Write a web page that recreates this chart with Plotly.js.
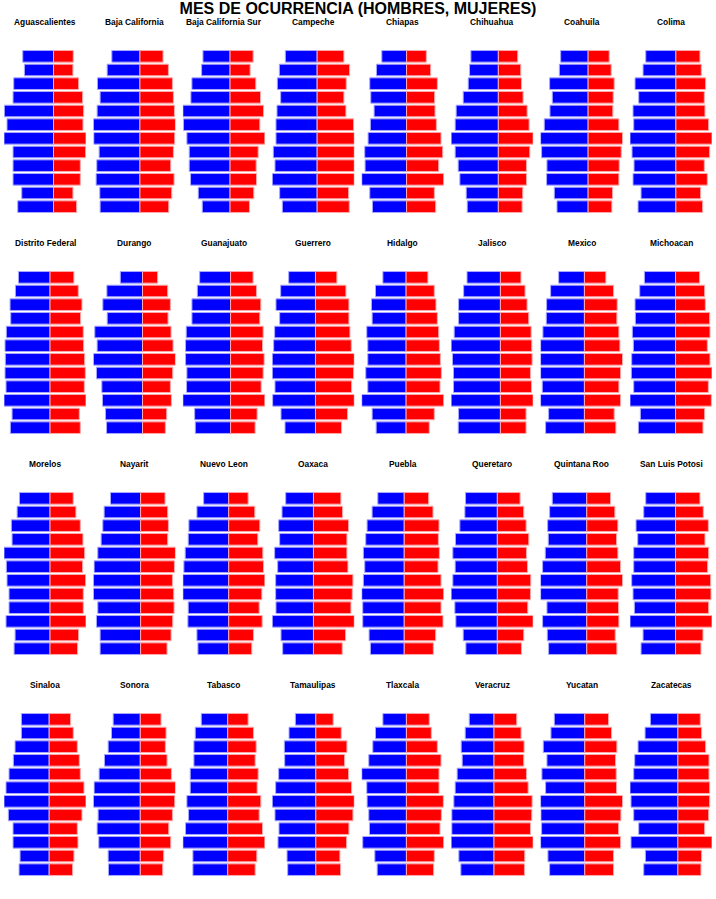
<!DOCTYPE html>
<html>
<head>
<meta charset="utf-8">
<script src="https://cdn.plot.ly/plotly-3.0.1.min.js"></script>
<style>html,body{margin:0;padding:0;background:#fff;}#chart{width:716px;height:899px;}</style>
</head>
<body>
<div id="chart"></div>
<script>
const tituloPrincipal = "MES DE OCURRENCIA (HOMBRES, MUJERES)";
const meses = ["Ene","Feb","Mar","Abr","May","Jun","Jul","Ago","Sep","Oct","Nov","Dic"];
const estados = ["Aguascalientes","Baja California","Baja California Sur","Campeche","Chiapas","Chihuahua","Coahuila","Colima",
  "Distrito Federal","Durango","Guanajuato","Guerrero","Hidalgo","Jalisco","Mexico","Michoacan",
  "Morelos","Nayarit","Nuevo Leon","Oaxaca","Puebla","Queretaro","Quintana Roo","San Luis Potosi",
  "Sinaloa","Sonora","Tabasco","Tamaulipas","Tlaxcala","Veracruz","Yucatan","Zacatecas"];
// values per state, months Ene..Dic (top to bottom)
const hombres = [
  [92,87,119,121,147,139,148,121,121,121,95,107],
  [84,98,127,119,128,139,138,122,129,131,120,119],
  [81,85,114,117,141,139,129,122,122,118,95,83],
  [95,113,119,109,120,123,123,131,126,134,112,104],
  [74,90,110,107,97,108,115,125,124,134,110,102],
  [82,86,90,105,126,129,141,129,120,115,96,93],
  [82,86,115,107,114,131,142,139,123,124,101,93],
  [90,98,122,111,128,126,137,131,125,128,104,113],
  [94,103,119,117,130,134,133,134,131,137,113,118],
  [66,106,118,105,142,135,146,137,121,119,110,107],
  [92,99,115,115,132,134,134,130,131,142,107,105],
  [80,104,118,107,122,125,129,129,121,128,103,91],
  [69,91,103,101,117,114,114,120,114,132,101,89],
  [99,109,124,124,137,146,142,139,139,146,124,125],
  [77,101,113,114,124,131,131,131,126,131,107,116],
  [93,107,121,120,129,126,131,132,125,136,105,111],
  [91,98,115,113,137,130,128,122,122,131,104,107],
  [90,109,113,118,128,139,141,141,128,132,121,121],
  [75,95,119,121,130,134,137,137,121,122,95,92],
  [83,94,104,101,116,107,113,113,112,123,97,92],
  [79,96,111,115,122,118,122,127,124,124,105,101],
  [95,97,112,125,133,126,133,138,127,124,102,94],
  [103,111,117,115,124,132,138,138,119,132,118,114],
  [89,95,118,113,125,125,131,127,123,136,97,103],
  [83,83,102,107,120,129,135,122,108,108,87,90],
  [81,86,96,107,123,138,140,126,129,124,96,95],
  [79,97,101,101,112,112,122,117,126,134,104,104],
  [61,80,94,93,111,120,130,122,110,113,86,84],
  [70,92,100,112,133,118,117,112,110,130,94,87],
  [74,86,98,95,110,116,120,126,126,128,105,99],
  [91,101,124,113,128,117,132,131,129,132,110,105],
  [82,98,119,129,132,143,140,132,117,140,97,102]
];
const mujeres = [
  [59,58,75,87,90,88,97,96,80,80,58,69],
  [69,85,97,100,103,106,104,100,92,102,95,86],
  [69,60,77,91,100,89,104,84,78,79,71,58],
  [80,97,87,80,86,109,111,111,111,111,94,96],
  [59,72,92,84,85,89,103,108,96,111,83,87],
  [58,67,69,74,86,92,104,94,84,84,73,71],
  [63,69,78,75,74,92,103,99,93,92,73,71],
  [72,76,89,85,87,98,108,101,85,94,74,80],
  [71,84,95,91,99,100,103,105,102,107,87,90],
  [45,75,83,76,85,91,98,90,83,86,72,68],
  [67,77,90,87,97,95,100,97,91,102,79,73],
  [64,91,100,100,103,107,116,114,108,116,96,78],
  [65,84,89,93,97,99,102,105,101,112,84,69],
  [61,73,79,84,91,93,94,89,92,97,76,76],
  [64,87,98,97,103,106,114,108,103,108,89,94],
  [72,87,89,102,103,95,103,109,98,107,87,82],
  [69,77,90,98,103,97,106,99,99,107,85,82],
  [73,81,83,81,104,101,95,99,100,96,91,79],
  [58,78,93,87,102,104,108,99,91,100,74,69],
  [82,87,105,100,100,103,118,116,112,122,96,86],
  [73,86,104,102,105,101,110,118,110,116,94,87],
  [68,79,86,94,87,90,100,99,91,107,79,72],
  [71,84,93,89,93,101,107,94,95,96,85,90],
  [73,83,98,88,99,96,105,106,99,109,82,76],
  [64,72,84,90,93,104,110,98,84,86,74,70],
  [62,77,75,80,93,105,103,96,85,91,70,67],
  [61,77,85,82,91,88,99,94,104,111,87,82],
  [52,76,93,86,98,107,115,111,99,92,72,74],
  [68,74,92,103,97,97,110,104,100,111,83,81],
  [68,81,90,89,97,102,114,113,109,117,92,91],
  [71,80,96,92,94,95,113,108,101,107,86,86],
  [67,71,83,93,93,95,95,92,80,102,71,69]
];

const W = 716, H = 899;
const colPitch = 89.43, panelW = 82, left0 = 4;
const rowPitch = 221, blockTop = 49.5, blockH = 164, titleOff = 27.5;
const traces = [];
const layout = {
  width: W, height: H,
  margin: {l: 0, r: 0, t: 0, b: 0, pad: 0},
  paper_bgcolor: "#ffffff", plot_bgcolor: "#ffffff",
  showlegend: false, barmode: "overlay", bargap: 0.15,
  font: {family: "Liberation Sans, Arial, sans-serif", color: "#000"},
  title: {text: tituloPrincipal, x: 0.5, xanchor: "center", xref: "paper",
          y: 1 - 8.5/H, yref: "container", yanchor: "middle",
          font: {size: 16, family: "Liberation Sans, Arial, sans-serif", weight: "bold", color: "#000"}},
  annotations: []
};

estados.forEach((nombre, i) => {
  const c = i % 8, r = Math.floor(i / 8);
  const n = i + 1;
  const xa = "x" + (n === 1 ? "" : n), ya = "y" + (n === 1 ? "" : n);
  const x0 = left0 + c * colPitch, x1 = x0 + panelW;
  const top = blockTop + r * rowPitch, bot = top + blockH;
  const h = hombres[i], m = mujeres[i];
  traces.push({
    type: "bar", orientation: "h", y: meses, x: h.map(v => -v),
    xaxis: xa, yaxis: ya, hoverinfo: "skip",
    marker: {color: "#0000ff", line: {color: "#a8a8ff", width: 1}}
  });
  traces.push({
    type: "bar", orientation: "h", y: meses, x: m,
    xaxis: xa, yaxis: ya, hoverinfo: "skip",
    marker: {color: "#ff0000", line: {color: "#ffa8a8", width: 1}}
  });
  const maxH = Math.max(...h), maxM = Math.max(...m);
  layout["xaxis" + (n === 1 ? "" : n)] = {
    domain: [x0 / W, x1 / W], range: [-maxH, maxM], visible: false, fixedrange: true,
    anchor: ya
  };
  layout["yaxis" + (n === 1 ? "" : n)] = {
    domain: [1 - bot / H, 1 - top / H], type: "category", categoryarray: meses,
    autorange: "reversed", visible: false, fixedrange: true, anchor: xa
  };
  layout.annotations.push({
    text: "<b>" + nombre + "</b>", xref: "paper", yref: "paper",
    x: (x0 + panelW / 2) / W, y: 1 - (top - titleOff) / H,
    xanchor: "center", yanchor: "middle", showarrow: false,
    font: {size: 8.4, family: "Liberation Sans, Arial, sans-serif", color: "#000"}
  });
});

Plotly.newPlot("chart", traces, layout, {displayModeBar: false, staticPlot: true});
</script>
</body>
</html>
